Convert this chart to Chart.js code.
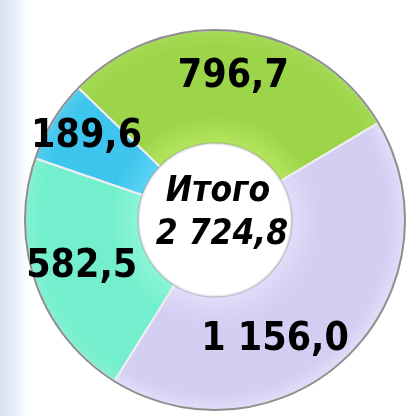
<!DOCTYPE html>
<html>
<head>
<meta charset="utf-8">
<script src="https://cdn.jsdelivr.net/npm/chart.js@4/dist/chart.umd.min.js"></script>
<style>
  html, body { margin: 0; padding: 0; }
  body {
    width: 419px; height: 416px; overflow: hidden;
    background: linear-gradient(to right, #d6e2f1 0px, #e6edf7 14px, #ffffff 28px);
  }
  #chart { display: block; }
</style>
</head>
<body>
<canvas id="chart" width="419" height="416"></canvas>
<script>
var categories = ['Сегмент А', 'Сегмент Б', 'Сегмент В', 'Сегмент Г'];
var values = [796.7, 1156.0, 582.5, 189.6];
var totalLabel = 'Итого';

// inner / base / outer shade for each slice
var sliceInner = ['#b4e55c', '#e0dcf8', '#8cf5d8', '#5cd3f4'];
var sliceBase = ['#9cd54a', '#d4cef3', '#74efcd', '#3ec5ee'];
var sliceOuter = ['#a6da56', '#e2def8', '#84f1d3', '#58cbf0'];

// pixel nudges of the value labels from the slice centre
var labelNudge = [[3, -11], [-33, 25], [-8, 2], [-15, -14]];

function fmt(v) {
    var parts = v.toFixed(1).split('.');
    var intPart = parts[0].replace(/\B(?=(\d{3})+(?!\d))/g, ' ');
    return intPart + ',' + parts[1];
}

var total = values.reduce(function (a, b) { return a + b; }, 0);

function sliceFill(c) {
    var i = c.dataIndex;
    var area = c.chart.chartArea;
    if (!area) return sliceBase[i];
    var cx = (area.left + area.right) / 2;
    var cy = (area.top + area.bottom) / 2;
    var r = Math.min(area.width, area.height) / 2;
    var g = c.chart.ctx.createRadialGradient(cx, cy, r * 0.4, cx, cy, r);
    g.addColorStop(0, sliceInner[i]);
    g.addColorStop(0.25, sliceBase[i]);
    g.addColorStop(0.85, sliceBase[i]);
    g.addColorStop(1, sliceOuter[i]);
    return g;
}

var labelPlugin = {
    id: 'sliceLabels',
    afterDatasetsDraw: function (chart) {
        var ctx = chart.ctx;
        var meta = chart.getDatasetMeta(0);
        var first = meta.data[0];
        ctx.save();

        // grey rim round the ring
        ctx.beginPath();
        ctx.arc(first.x, first.y, first.outerRadius, 0, Math.PI * 2);
        ctx.strokeStyle = '#8e8e8e';
        ctx.lineWidth = 2;
        ctx.stroke();

        // soft edge of the hole
        ctx.beginPath();
        ctx.arc(first.x, first.y, first.innerRadius + 1, 0, Math.PI * 2);
        ctx.strokeStyle = 'rgba(120,120,120,0.35)';
        ctx.lineWidth = 1.5;
        ctx.stroke();

        ctx.fillStyle = '#000';
        ctx.textAlign = 'center';
        ctx.textBaseline = 'middle';
        ctx.font = 'bold 39px "DejaVu Sans Condensed", "DejaVu Sans", sans-serif';
        meta.data.forEach(function (arc, i) {
            var p = arc.getCenterPoint();
            ctx.fillText(fmt(values[i]), p.x + labelNudge[i][0], p.y + labelNudge[i][1]);
        });

        ctx.textBaseline = 'alphabetic';
        ctx.font = 'italic bold 35px "DejaVu Sans Condensed", "DejaVu Sans", sans-serif';
        ctx.fillText(totalLabel, first.x + 3, first.y - 19);
        ctx.fillText(fmt(total), first.x + 7, first.y + 24);
        ctx.restore();
    }
};

var ctx = document.getElementById('chart').getContext('2d');
new Chart(ctx, {
    type: 'doughnut',
    data: {
        labels: categories,
        datasets: [{
            data: values,
            backgroundColor: sliceFill,
            borderColor: '#eeeef2',
            borderWidth: 2
        }]
    },
    options: {
        responsive: false,
        animation: false,
        rotation: -46,
        cutout: '40%',
        layout: { padding: { left: 23, right: 12, top: 29, bottom: 5 } },
        plugins: {
            legend: { display: false },
            tooltip: { enabled: false }
        }
    },
    plugins: [labelPlugin]
});
</script>
</body>
</html>
